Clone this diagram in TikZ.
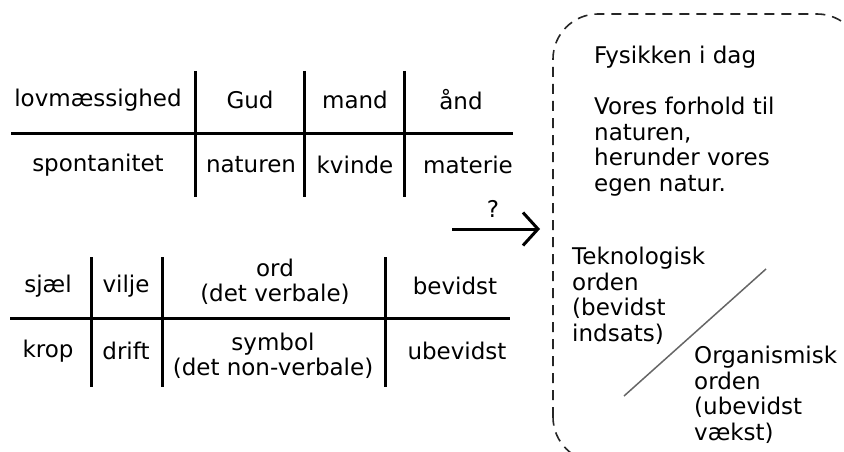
\documentclass[tikz,border=0pt]{standalone}
\usepackage{fontspec}
\setmainfont{DejaVu Sans}
\usetikzlibrary{arrows.meta}
\begin{document}
\begin{tikzpicture}[x=1pt,y=-1pt,
  txt/.style={inner sep=0pt,font=\fontsize{23}{25.5}\selectfont},
  ltxt/.style={txt,align=left,anchor=north west},
  ctxt/.style={txt,align=center},
  rule/.style={line width=3pt,black},
  box/.style={line width=1.6pt,dash pattern=on 10pt off 7pt,black!85,rounded corners=45pt},
  diag/.style={line width=1.5pt,black!60}]
\useasboundingbox (0,0) rectangle (844,452);
% table 1
\coordinate (h1a) at (11,133); \coordinate (h1b) at (513,133);
\draw[rule] (h1a) -- (h1b);
\foreach \x/\n in {195/va,304/vb,404/vc}{
  \coordinate (\n t) at (\x,71); \coordinate (\n b) at (\x,197);
  \draw[rule] (\n t) -- (\n b);}
\node[ctxt] (t11) at (98,100) {lovmæssighed};
\node[ctxt] (t12) at (250,100) {Gud};
\node[ctxt] (t13) at (355,100) {mand};
\node[ctxt] (t14) at (461,100) {ånd};
\node[ctxt] (t21) at (98,165) {spontanitet};
\node[ctxt] (t22) at (251,165) {naturen};
\node[ctxt] (t23) at (355,165) {kvinde};
\node[ctxt] (t24) at (468,165) {materie};
% table 2
\coordinate (h2a) at (10,318); \coordinate (h2b) at (510,318);
\draw[rule] (h2a) -- (h2b);
\foreach \x/\n in {91/wa,162/wb,385/wc}{
  \coordinate (\n t) at (\x,257); \coordinate (\n b) at (\x,387);
  \draw[rule] (\n t) -- (\n b);}
\node[ctxt] (s11) at (48,286) {sjæl};
\node[ctxt] (s12) at (126,286) {vilje};
\node[ctxt] (s13) at (275,282) {ord\\(det verbale)};
\node[ctxt] (s14) at (455,286) {bevidst};
\node[ctxt] (s21) at (48,351) {krop};
\node[ctxt] (s22) at (126,351) {drift};
\node[ctxt] (s23) at (273,356) {symbol\\(det non-verbale)};
\node[ctxt] (s24) at (457,351) {ubevidst};
% arrow
\coordinate (aa) at (452,229); \coordinate (ab) at (540,229);
\draw[line width=3pt,-{Straight Barb[length=15pt,width=33pt,line width=3pt]}] (aa) -- (ab);
\node[ctxt] (q) at (493,209) {?};
% box
\draw[box] (553,462) -- (553,14) -- (862,14) -- (862,462) -- cycle;
\node[ltxt] (fys) at (594,46) {Fysikken i dag};
\node[ltxt] (vor) at (594,97) {Vores forhold til\\naturen,\\herunder vores\\egen natur.};
\node[ltxt] (tek) at (572,247) {Teknologisk\\orden\\(bevidst\\indsats)};
\node[ltxt] (org) at (694,346) {Organismisk\\orden\\(ubevidst\\vækst)};
\coordinate (d1) at (624,396); \coordinate (d2) at (766,269);
\draw[diag] (d1) -- (d2);
\end{tikzpicture}
\end{document}
